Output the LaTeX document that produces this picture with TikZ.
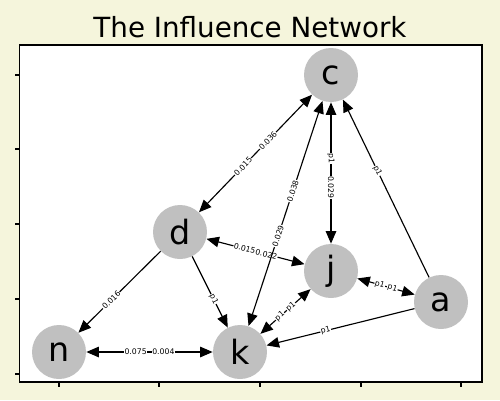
\documentclass[tikz,border=0pt]{standalone}
\usepackage{fontspec}
\setmainfont{DejaVu Sans}
\usetikzlibrary{arrows.meta}
\definecolor{bgbeige}{RGB}{245,245,220}
\definecolor{nodegray}{RGB}{192,192,192}
\tikzstyle{person} = [circle, fill=nodegray, minimum size=1.08cm, inner sep=0pt, font=\fontsize{19}{19}\selectfont]
\tikzstyle{arrow} = [line width=0.65pt, -{Triangle[length=0.25cm, width=0.21cm]}]
\tikzstyle{biarrow} = [line width=0.65pt, {Triangle[length=0.25cm, width=0.21cm]}-{Triangle[length=0.25cm, width=0.21cm]}]
\tikzstyle{lbl} = [sloped, fill=white, inner xsep=0.3pt, inner ysep=0.7pt, font=\fontsize{4.4}{5}\selectfont]
\tikzstyle{tick} = [line width=0.6pt]

\begin{document}
\begin{tikzpicture}[x=0.02cm, y=-0.02cm]
    % figure and axes
    \fill [bgbeige] (0,0) rectangle (500,400);
    \draw [line width=0.6pt, fill=white] (19.5,45) rectangle (482,382);
    \foreach \ty in {75,149,224,299,374}
        \draw [tick] (15,\ty) -- (19.5,\ty);
    \foreach \tx in {59,159,260,361,461}
        \draw [tick] (\tx,382) -- (\tx,386.5);
    \node (title) at (250,27) {\fontsize{15.8}{16}\selectfont The Influence Network};

    % people
    \node (c) [person] at (331,75) {c};
    \node (d) [person] at (180,232) {d};
    \node (j) [person] at (331,271) {j};
    \node (a) [person] at (441,302) {a};
    \node (n) [person] at (59,352) {n};
    \node (k) [person] at (240,352) {k};

    % influence
    \draw [biarrow] (d) -- node[lbl, pos=0.39] {0.015} node[lbl, pos=0.61] {0.036} (c);
    \draw [arrow] (d) -- node[lbl, pos=0.6] {0.016} (n);
    \draw [arrow] (d) -- node[lbl, pos=0.6] {p1} (k);
    \draw [biarrow] (d) -- node[lbl, pos=0.39] {0.015} node[lbl, pos=0.61] {0.022} (j);
    \draw [biarrow] (c) -- node[lbl, pos=0.4] {p1} node[lbl, pos=0.6] {0.029} (j);
    \draw [biarrow] (k) -- node[lbl, pos=0.4] {0.029} node[lbl, pos=0.6] {0.038} (c);
    \draw [arrow] (a) -- node[lbl, pos=0.6] {p1} (c);
    \draw [biarrow] (n) -- node[lbl, pos=0.39] {0.075} node[lbl, pos=0.61] {0.004} (k);
    \draw [biarrow] (k) -- node[lbl, pos=0.39] {p1} node[lbl, pos=0.61] {p1} (j);
    \draw [biarrow] (j) -- node[lbl, pos=0.39] {p1} node[lbl, pos=0.61] {p1} (a);
    \draw [arrow] (a) -- node[lbl, pos=0.6] {p1} (k);
\end{tikzpicture}
\end{document}
